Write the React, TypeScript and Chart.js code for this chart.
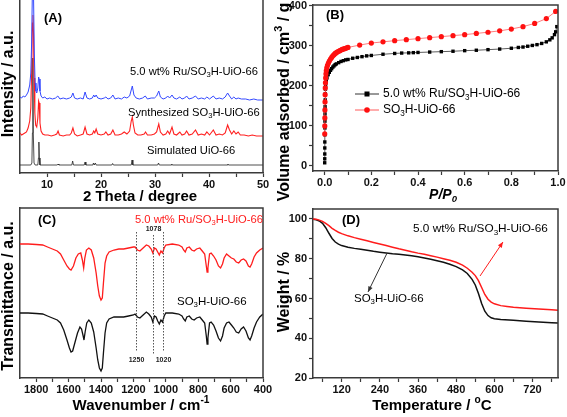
import React, { useEffect, useRef } from "react";
import { Chart, registerables } from "chart.js";
Chart.register(...registerables);

const W = 567;
const H = 417;
const FF = "'Liberation Sans', Arial, Helvetica, sans-serif";
const AXIS = "#3a3a3a";

// ---------------- Panel A: XRD (2θ, intensity a.u.) ----------------
const xrdRu: number[][] = [
  [5.0, 76], [5.3, 75], [5.6, 77], [5.9, 76], [6.2, 78], [6.5, 81], [6.8, 88], [7.0, 100], [7.15, 130], [7.3, 185],
  [7.4, 200], [7.5, 180], [7.65, 120], [7.8, 90], [7.95, 82], [8.1, 80], [8.3, 85], [8.45, 96], [8.55, 94], [8.7, 82],
  [8.9, 77], [9.2, 75], [9.6, 76], [10.0, 74], [10.5, 75], [11.0, 74], [11.6, 75], [12.0, 77], [12.4, 74], [13.0, 75],
  [13.6, 74], [14.2, 75], [14.5, 76], [14.8, 80], [15.1, 75], [15.6, 74], [16.2, 75], [16.7, 74], [17.05, 81], [17.4, 75],
  [17.9, 74], [18.4, 75], [18.65, 78], [18.85, 76], [19.1, 78], [19.4, 75], [20.0, 74], [20.6, 75], [20.9, 76], [21.3, 74],
  [21.8, 75], [22.2, 78], [22.6, 74], [23.2, 75], [23.8, 74], [24.3, 76], [24.8, 75], [25.3, 77], [25.8, 87], [26.1, 78],
  [26.5, 75], [27.1, 74], [27.7, 75], [28.2, 77], [28.6, 74], [29.3, 75], [29.9, 75], [30.3, 77], [30.7, 82], [31.0, 76],
  [31.5, 74], [32.0, 75], [32.35, 77], [32.7, 75], [33.15, 78], [33.5, 75], [34.0, 74], [34.6, 76], [35.0, 74], [35.5, 75],
  [35.85, 77], [36.3, 74], [36.9, 75], [37.5, 77], [38.0, 74], [38.6, 75], [39.2, 74], [39.6, 76], [40.1, 74], [40.8, 77],
  [41.3, 74], [41.9, 75], [42.5, 74], [43.0, 76], [43.45, 80], [43.8, 77], [44.2, 74], [44.6, 76], [45.0, 74], [45.4, 75],
  [46.0, 74], [46.8, 74], [47.5, 73], [48.3, 74], [49.0, 73], [50.0, 73],
];
const xrdSO3H: number[][] = [
  [5.0, 40], [5.3, 38], [5.6, 39], [5.9, 40], [6.2, 41], [6.5, 45], [6.8, 52], [7.0, 65], [7.15, 100], [7.3, 150],
  [7.4, 158], [7.5, 140], [7.6, 95], [7.75, 60], [7.9, 48], [8.1, 46], [8.3, 55], [8.45, 72], [8.55, 70], [8.7, 50],
  [8.9, 42], [9.2, 39], [9.6, 38], [10.2, 38], [10.8, 37], [11.4, 38], [11.8, 39], [12.05, 42], [12.3, 38], [13.0, 37],
  [13.6, 38], [14.2, 38], [14.5, 40], [14.8, 45], [15.1, 39], [15.6, 37], [16.2, 38], [16.7, 39], [17.05, 46], [17.4, 39],
  [17.9, 38], [18.4, 39], [18.65, 42], [18.85, 40], [19.1, 44], [19.4, 39], [20.0, 38], [20.6, 39], [20.9, 41], [21.3, 38],
  [21.8, 39], [22.2, 43], [22.6, 38], [23.2, 38], [23.8, 39], [24.3, 41], [24.8, 39], [25.3, 42], [25.6, 52], [25.8, 56],
  [26.0, 48], [26.3, 40], [26.8, 38], [27.4, 38], [28.0, 39], [28.25, 41], [28.6, 38], [29.3, 38], [29.9, 39], [30.3, 41],
  [30.7, 49], [31.0, 41], [31.5, 38], [32.0, 39], [32.35, 42], [32.7, 39], [33.15, 46], [33.5, 39], [34.0, 38], [34.6, 41],
  [35.0, 38], [35.5, 39], [35.85, 42], [36.3, 38], [36.9, 39], [37.5, 43], [38.0, 38], [38.6, 39], [39.2, 38], [39.6, 41],
  [40.1, 38], [40.8, 43], [41.3, 38], [41.9, 39], [42.5, 38], [43.0, 40], [43.45, 48], [43.8, 43], [44.2, 39], [44.6, 42],
  [45.0, 39], [45.4, 41], [45.8, 38], [46.5, 38], [47.3, 37], [48.0, 38], [48.8, 37], [50.0, 37],
];
const xrdSim: number[][] = [
  [5.0, 8], [7.0, 8], [7.2, 10], [7.3, 40], [7.38, 115], [7.46, 40], [7.6, 10], [7.8, 8], [8.3, 8], [8.42, 15],
  [8.5, 31], [8.58, 15], [8.7, 8], [11.9, 8], [12.05, 9], [12.2, 8], [14.6, 8], [14.75, 12], [14.9, 8], [16.9, 8],
  [17.05, 11], [17.2, 8], [18.5, 8], [18.6, 10], [18.75, 8], [18.95, 10], [19.1, 8], [22.0, 8], [22.15, 9.5], [22.3, 8],
  [25.6, 8], [25.75, 13], [25.9, 8], [30.5, 8], [30.65, 10], [30.8, 8], [33.0, 8], [33.1, 9], [33.2, 8], [43.4, 8],
  [43.5, 9], [43.6, 8], [50.0, 8],
];
const xrdTicks = [10, 15, 20, 25, 30, 35, 40, 45, 50];
const xrdLabels = [10, 20, 30, 40, 50];

// ---------------- Panel B: N2 isotherms ----------------
const isoRu: number[][] = [
  [0.0002, 8], [0.0003, 18], [0.0004, 30], [0.0005, 45], [0.0006, 60], [0.0008, 78], [0.001, 95], [0.0012, 112],
  [0.0015, 130], [0.0018, 148], [0.0022, 165], [0.0027, 180], [0.0033, 192], [0.004, 201], [0.005, 208], [0.007, 214],
  [0.01, 220], [0.015, 228], [0.02, 234], [0.025, 239], [0.03, 243], [0.035, 247], [0.04, 250], [0.045, 253],
  [0.05, 255], [0.06, 258], [0.07, 261], [0.08, 263], [0.09, 265], [0.1, 266], [0.12, 269], [0.14, 271], [0.16, 273],
  [0.18, 275], [0.2, 276], [0.25, 279], [0.3, 281], [0.33, 282], [0.36, 282.5], [0.38, 283], [0.4, 283.5],
  [0.45, 284.5], [0.5, 285.5], [0.55, 286.5], [0.6, 288], [0.65, 289], [0.7, 290.5], [0.75, 292], [0.8, 294],
  [0.83, 296], [0.85, 297], [0.87, 299], [0.89, 301], [0.91, 303], [0.93, 306], [0.95, 310], [0.965, 315],
  [0.975, 320], [0.985, 328], [0.99, 335], [0.995, 348],
];
const isoSO3H: number[][] = [
  [0.0003, 80], [0.0005, 100], [0.0008, 120], [0.0011, 140], [0.0015, 160], [0.002, 178], [0.0026, 195],
  [0.0033, 208], [0.0042, 220], [0.0055, 230], [0.007, 238], [0.009, 245], [0.012, 251], [0.016, 257], [0.02, 262],
  [0.025, 267], [0.03, 271], [0.035, 275], [0.04, 278], [0.045, 281], [0.05, 283], [0.055, 285], [0.06, 286.5],
  [0.065, 288], [0.07, 289.5], [0.075, 291], [0.08, 292], [0.085, 293], [0.09, 294], [0.095, 295], [0.1, 296],
  [0.15, 302], [0.2, 307], [0.25, 310], [0.3, 313], [0.35, 315.5], [0.4, 318], [0.45, 320.5], [0.5, 323],
  [0.55, 325.5], [0.6, 328], [0.65, 331], [0.7, 334], [0.75, 337.5], [0.8, 342], [0.85, 348], [0.9, 356],
  [0.95, 368], [0.99, 386],
];
const isoXTicks = [0, 0.1, 0.2, 0.3, 0.4, 0.5, 0.6, 0.7, 0.8, 0.9, 1.0];
const isoXLabels = [0, 0.2, 0.4, 0.6, 0.8, 1.0];
const isoYTicks = [0, 50, 100, 150, 200, 250, 300, 350, 400];
const isoYLabels = [0, 100, 200, 300, 400];

// ---------------- Panel C: FT-IR ----------------
const irRu: number[][] = [
  [1900, 134], [1850, 134], [1800, 133.5], [1760, 133], [1730, 131], [1700, 129], [1670, 127], [1650, 124],
  [1630, 118], [1610, 112], [1595, 109], [1585, 108], [1570, 112], [1555, 120], [1540, 124], [1525, 125],
  [1515, 118], [1507, 110], [1500, 120], [1490, 128], [1475, 130], [1460, 128], [1445, 120], [1430, 105],
  [1420, 92], [1410, 82], [1400, 78], [1392, 80], [1385, 95], [1375, 115], [1365, 122], [1350, 126], [1320, 128],
  [1290, 129], [1260, 129], [1230, 130], [1200, 131], [1190, 131], [1175, 128], [1160, 127], [1140, 130],
  [1120, 133], [1105, 132], [1090, 129], [1080, 125], [1070, 130], [1060, 129], [1050, 126], [1040, 123],
  [1030, 127], [1020, 125], [1010, 130], [1000, 133], [960, 134], [920, 133], [900, 131], [890, 128], [880, 126],
  [870, 130], [855, 131], [840, 128], [825, 127], [810, 129], [790, 130], [775, 127], [760, 124], [750, 112],
  [745, 106], [740, 110], [730, 124], [720, 125], [705, 122], [690, 118], [675, 112], [662, 110], [650, 114],
  [640, 120], [625, 124], [610, 122], [595, 120], [580, 119], [565, 116], [550, 115], [535, 118], [520, 119],
  [505, 117], [490, 112], [480, 111], [470, 114], [455, 121], [440, 125], [420, 128], [400, 130],
];
const irSO3H: number[][] = [
  [1900, 65], [1850, 65], [1800, 64.5], [1760, 64], [1730, 62], [1700, 60], [1670, 58], [1650, 55], [1630, 48],
  [1610, 38], [1595, 30], [1585, 26], [1575, 27], [1560, 36], [1545, 45], [1530, 51], [1520, 49], [1510, 42],
  [1505, 38], [1498, 46], [1488, 55], [1475, 58], [1460, 55], [1445, 46], [1430, 30], [1420, 18], [1410, 10],
  [1400, 7], [1392, 10], [1385, 25], [1375, 45], [1365, 55], [1350, 59], [1320, 61], [1290, 61], [1260, 61],
  [1230, 62], [1200, 63], [1190, 64], [1175, 61], [1160, 60], [1140, 63], [1120, 66], [1105, 64], [1090, 61],
  [1080, 56], [1070, 62], [1060, 61], [1050, 57], [1040, 54], [1030, 58], [1020, 56], [1010, 62], [1000, 65],
  [960, 65], [920, 64], [900, 62], [890, 59], [880, 57], [870, 61], [855, 62], [840, 59], [825, 58], [810, 60],
  [790, 61], [775, 58], [760, 55], [750, 42], [745, 34], [740, 40], [730, 55], [720, 56], [705, 53], [690, 47],
  [675, 40], [662, 37], [650, 42], [640, 50], [625, 55], [610, 56], [595, 53], [580, 50], [565, 46], [550, 45],
  [535, 49], [520, 51], [505, 47], [490, 40], [480, 38], [470, 42], [455, 50], [440, 56], [420, 61], [400, 64],
];
const irXTicks = [1800, 1700, 1600, 1500, 1400, 1300, 1200, 1100, 1000, 900, 800, 700, 600, 500, 400];
const irXLabels = [1800, 1600, 1400, 1200, 1000, 800, 600, 400];
const irMarkLines = [1185, 1078, 1015];
const irMarkLabels = ["1250", "1078", "1020"];

// ---------------- Panel D: TGA ----------------
const tgaRu: number[][] = [
  [30, 100], [40, 99.8], [50, 99.4], [60, 98.8], [70, 97.8], [80, 96.6], [90, 95.3], [100, 94.2], [110, 93.3],
  [120, 92.6], [140, 91.5], [160, 90.6], [180, 89.8], [200, 89], [220, 88.2], [240, 87.4], [260, 86.6], [280, 85.8],
  [300, 85], [320, 84.3], [340, 83.5], [360, 82.8], [380, 82.2], [400, 81.5], [420, 80.8], [440, 80], [460, 79.2],
  [480, 78.2], [500, 76.8], [515, 75.2], [530, 73.2], [540, 71.5], [550, 69], [560, 65.5], [570, 62], [580, 59.6],
  [590, 58.2], [600, 57.3], [620, 56.4], [640, 56], [660, 55.6], [700, 55.1], [740, 54.7], [780, 54.3], [800, 54.1],
];
const tgaSO3H: number[][] = [
  [30, 99.8], [40, 99.6], [50, 99], [60, 97.8], [70, 95.6], [80, 92.8], [90, 90.2], [100, 88.4], [110, 87.3],
  [120, 86.6], [140, 85.8], [160, 85.2], [180, 84.7], [200, 84.2], [220, 83.7], [240, 83.3], [260, 82.9], [280, 82.5],
  [300, 82.2], [320, 81.9], [340, 81.5], [360, 81], [380, 80.4], [400, 79.7], [420, 79], [440, 78.2], [460, 77.2],
  [480, 76], [500, 74.4], [515, 72.6], [530, 69.6], [540, 66.8], [550, 62.5], [560, 57.5], [570, 53.6], [580, 51.4],
  [590, 50.3], [600, 49.8], [620, 49.4], [660, 49], [700, 48.6], [740, 48.2], [780, 47.8], [800, 47.6],
];
const tgaXTicks = [60, 120, 180, 240, 300, 360, 420, 480, 540, 600, 660, 720, 780];
const tgaXLabels = [120, 240, 360, 480, 600, 720];
const tgaYTicks = [20, 30, 40, 50, 60, 70, 80, 90, 100];
const tgaYLabels = [20, 40, 60, 80, 100];
// arrows: [fromX, fromY, toX, toY] in data units (head at "to")
const tgaArrowRu = [555, 71.3, 627, 88.4];
const tgaArrowSO3H = [263, 82.9, 203, 63.3];

// ---------------- helpers ----------------
type Seg = { text: string; mode: "n" | "sub" | "sup" };
function parseRich(s: string): Seg[] {
  const out: Seg[] = [];
  let buf = "";
  let i = 0;
  while (i < s.length) {
    const ch = s[i];
    if ((ch === "_" || ch === "^") && s[i + 1] === "{") {
      if (buf) { out.push({ text: buf, mode: "n" }); buf = ""; }
      const end = s.indexOf("}", i + 2);
      out.push({ text: s.slice(i + 2, end), mode: ch === "_" ? "sub" : "sup" });
      i = end + 1;
    } else { buf += ch; i++; }
  }
  if (buf) out.push({ text: buf, mode: "n" });
  return out;
}

type Txt = {
  s: string; x: number; y: number; size: number; bold?: boolean; italic?: boolean;
  color?: string; align?: "left" | "center"; rot?: boolean;
};

function drawRich(ctx: CanvasRenderingContext2D, t: Txt) {
  const segs = parseRich(t.s);
  const pre = `${t.italic ? "italic " : ""}${t.bold ? "bold " : ""}`;
  let total = 0;
  const items = segs.map((sg) => {
    const sz = sg.mode === "n" ? t.size : t.size * 0.68;
    ctx.font = `${pre}${sz}px ${FF}`;
    const w = ctx.measureText(sg.text).width;
    total += w;
    return { ...sg, sz, w };
  });
  ctx.save();
  ctx.translate(t.x, t.y);
  if (t.rot) ctx.rotate(-Math.PI / 2);
  let x = t.align === "center" ? -total / 2 : 0;
  ctx.textBaseline = "middle";
  ctx.textAlign = "left";
  ctx.fillStyle = t.color || "#000";
  for (const it of items) {
    ctx.font = `${pre}${it.sz}px ${FF}`;
    const dy = it.mode === "sub" ? t.size * 0.28 : it.mode === "sup" ? -t.size * 0.38 : 0;
    ctx.fillText(it.text, x, dy);
    x += it.w;
  }
  ctx.restore();
}

const pts = (a: number[][]) => a.map(([x, y]) => ({ x, y }));

type AxisSpec = {
  min: number; max: number; reverse?: boolean; ticks?: number[]; labels?: number[];
  fmt?: (v: number) => string; size: number;
};

function makeAxis(a: AxisSpec, horizontal: boolean) {
  const show = !!a.ticks;
  return {
    type: "linear",
    min: a.min,
    max: a.max,
    reverse: !!a.reverse,
    afterBuildTicks: (s: any) => {
      if (a.ticks) s.ticks = a.ticks.map((v) => ({ value: v }));
    },
    afterFit: (s: any) => {
      if (horizontal) { s.height = a.size; s.paddingLeft = 0; s.paddingRight = 0; }
      else { s.width = a.size; s.paddingTop = 0; s.paddingBottom = 0; }
    },
    ticks: {
      display: show,
      autoSkip: false,
      maxRotation: 0,
      padding: horizontal ? 1 : 2,
      color: "#111",
      font: { family: FF, size: 11, weight: "bold" },
      callback: (v: number) => (a.labels && a.labels.includes(v) ? (a.fmt ? a.fmt(v) : String(v)) : ""),
    },
    grid: {
      display: true,
      drawOnChartArea: false,
      drawTicks: show,
      tickLength: 4,
      tickColor: AXIS,
      tickWidth: 1.2,
    },
    border: { display: true, color: AXIS, width: 1.5 },
  };
}

type PanelSpec = {
  pad: { left: number; top: number; right: number; bottom: number };
  x: AxisSpec; y: AxisSpec;
  datasets: any[];
  topBorder: boolean;
  texts: Txt[];
  extra?: (chart: any, ctx: CanvasRenderingContext2D) => void;
};

function makeConfig(p: PanelSpec): any {
  const plugin = {
    id: "panelDeco",
    afterDatasetsDraw(chart: any) {
      const ctx: CanvasRenderingContext2D = chart.ctx;
      const a = chart.chartArea;
      ctx.save();
      ctx.strokeStyle = AXIS;
      ctx.lineWidth = 1.5;
      ctx.beginPath();
      ctx.moveTo(a.right, a.bottom);
      ctx.lineTo(a.right, a.top);
      if (p.topBorder) ctx.lineTo(a.left, a.top);
      ctx.stroke();
      ctx.restore();
      if (p.extra) p.extra(chart, ctx);
      for (const t of p.texts) drawRich(ctx, t);
    },
  };
  return {
    type: "line",
    data: { datasets: p.datasets },
    options: {
      animation: false,
      responsive: false,
      devicePixelRatio: 1,
      layout: { padding: p.pad },
      plugins: { legend: { display: false }, tooltip: { enabled: false }, title: { display: false } },
      scales: { x: makeAxis(p.x, true), y: makeAxis(p.y, false) },
      elements: { line: { tension: 0 } },
    },
    plugins: [plugin],
  };
}

const lineDs = (data: number[][], color: string, width: number) => ({
  data: pts(data), borderColor: color, borderWidth: width, pointRadius: 0, fill: false,
});

const RED = "#ff1c1c";

function drawArrow(ctx: CanvasRenderingContext2D, chart: any, arr: number[], color: string) {
  const sx = chart.scales.x, sy = chart.scales.y;
  const x1 = sx.getPixelForValue(arr[0]), y1 = sy.getPixelForValue(arr[1]);
  const x2 = sx.getPixelForValue(arr[2]), y2 = sy.getPixelForValue(arr[3]);
  const ang = Math.atan2(y2 - y1, x2 - x1);
  ctx.save();
  ctx.strokeStyle = color; ctx.fillStyle = color; ctx.lineWidth = 1;
  ctx.beginPath(); ctx.moveTo(x1, y1); ctx.lineTo(x2, y2); ctx.stroke();
  ctx.beginPath();
  ctx.moveTo(x2, y2);
  ctx.lineTo(x2 - 6 * Math.cos(ang - 0.4), y2 - 6 * Math.sin(ang - 0.4));
  ctx.lineTo(x2 - 6 * Math.cos(ang + 0.4), y2 - 6 * Math.sin(ang + 0.4));
  ctx.closePath(); ctx.fill();
  ctx.restore();
}

const specs: PanelSpec[] = [
  // (A)
  {
    pad: { left: 0, top: 0, right: 304, bottom: 222 },
    x: { min: 5, max: 50, ticks: xrdTicks, labels: xrdLabels, size: 22 },
    y: { min: 0, max: 173, size: 20 },
    datasets: [
      lineDs(xrdRu, "#3348ff", 1),
      lineDs(xrdSO3H, "#ff2020", 1.1),
      lineDs(xrdSim, "#222", 0.8),
    ],
    topBorder: false,
    texts: [
      { s: "(A)", x: 53, y: 18, size: 13, bold: true, align: "center" },
      { s: "5.0 wt% Ru/SO_{3}H-UiO-66", x: 130, y: 72, size: 11.2 },
      { s: "Synthesized SO_{3}H-UiO-66", x: 128, y: 113, size: 11.2 },
      { s: "Simulated UiO-66", x: 147, y: 151, size: 11.2 },
      { s: "Intensity / a.u.", x: 9, y: 84, size: 16, bold: true, align: "center", rot: true },
      { s: "2 Theta / degree", x: 140, y: 197, size: 15, bold: true, align: "center" },
    ],
  },
  // (B)
  {
    pad: { left: 283, top: 5, right: 9, bottom: 224 },
    x: { min: -0.05, max: 1.0, ticks: isoXTicks, labels: isoXLabels, fmt: (v) => v.toFixed(1), size: 22 },
    y: { min: -12.5, max: 402, ticks: isoYTicks, labels: isoYLabels, size: 30 },
    datasets: [
      {
        data: pts(isoSO3H), borderColor: "#ff5a5a", borderWidth: 0.8, pointRadius: 2.6,
        pointStyle: "circle", pointBackgroundColor: "#ff1010", pointBorderColor: "#ff1010", pointBorderWidth: 0,
      },
      {
        data: pts(isoRu), borderColor: "#333", borderWidth: 0.8, pointRadius: 2.4,
        pointStyle: "rect", pointBackgroundColor: "#000", pointBorderColor: "#000", pointBorderWidth: 0,
      },
    ],
    topBorder: true,
    texts: [
      { s: "(B)", x: 335, y: 15, size: 13, bold: true, align: "center" },
      { s: "5.0 wt% Ru/SO_{3}H-UiO-66", x: 383, y: 94, size: 12 },
      { s: "SO_{3}H-UiO-66", x: 383, y: 110, size: 12 },
      { s: "Volume adsorbed / cm^{3} / g", x: 285, y: 102, size: 16, bold: true, align: "center", rot: true },
      { s: "P/P_{0}", x: 443, y: 195, size: 14, bold: true, italic: true, align: "center" },
    ],
    extra: (chart, ctx) => {
      ctx.save();
      ctx.lineWidth = 1;
      ctx.strokeStyle = "#333";
      ctx.beginPath(); ctx.moveTo(355, 94); ctx.lineTo(379, 94); ctx.stroke();
      ctx.fillStyle = "#000"; ctx.fillRect(364.5, 91.5, 5, 5);
      ctx.strokeStyle = "#ff5a5a";
      ctx.beginPath(); ctx.moveTo(355, 110); ctx.lineTo(379, 110); ctx.stroke();
      ctx.fillStyle = "#ff1010"; ctx.beginPath(); ctx.arc(367, 110, 2.8, 0, Math.PI * 2); ctx.fill();
      ctx.restore();
    },
  },
  // (C)
  {
    pad: { left: 0, top: 208, right: 304, bottom: 17 },
    x: { min: 400, max: 1900, reverse: true, ticks: irXTicks, labels: irXLabels, size: 22 },
    y: { min: 0, max: 170, size: 20 },
    datasets: [lineDs(irRu, RED, 1.3), lineDs(irSO3H, "#111", 1.3)],
    topBorder: true,
    texts: [
      { s: "(C)", x: 47, y: 220, size: 13, bold: true, align: "center" },
      { s: "5.0 wt% Ru/SO_{3}H-UiO-66", x: 135, y: 220, size: 11.2, color: RED },
      { s: "SO_{3}H-UiO-66", x: 177, y: 302, size: 11.5 },
      { s: "Transmittance / a.u.", x: 9, y: 296, size: 16, bold: true, align: "center", rot: true },
      { s: "Wavenumber / cm^{-1}", x: 141, y: 406, size: 15, bold: true, align: "center" },
    ],
    extra: (chart, ctx) => {
      const sx = chart.scales.x, sy = chart.scales.y;
      ctx.save();
      ctx.strokeStyle = "#555"; ctx.lineWidth = 1; ctx.setLineDash([1.5, 1.5]);
      irMarkLines.forEach((v, i) => {
        const px = Math.round(sx.getPixelForValue(v)) + 0.5;
        const top = sy.getPixelForValue(i === 1 ? 143 : 146);
        const bot = sy.getPixelForValue(i === 1 ? 23 : 26);
        ctx.beginPath(); ctx.moveTo(px, top); ctx.lineTo(px, bot); ctx.stroke();
        const ly = i === 1 ? sy.getPixelForValue(149) : sy.getPixelForValue(18);
        drawRich(ctx, { s: irMarkLabels[i], x: px, y: ly, size: 7, bold: true, align: "center", color: "#222" });
      });
      ctx.restore();
    },
  },
  // (D)
  {
    pad: { left: 283, top: 209, right: 9, bottom: 17 },
    x: { min: 30, max: 800, ticks: tgaXTicks, labels: tgaXLabels, size: 22 },
    y: { min: 20, max: 105, ticks: tgaYTicks, labels: tgaYLabels, size: 30 },
    datasets: [lineDs(tgaRu, RED, 1.5), lineDs(tgaSO3H, "#111", 1.5)],
    topBorder: true,
    texts: [
      { s: "(D)", x: 351, y: 220, size: 13, bold: true, align: "center" },
      { s: "5.0 wt% Ru/SO_{3}H-UiO-66", x: 413, y: 229, size: 11.8 },
      { s: "SO_{3}H-UiO-66", x: 354, y: 299, size: 11.5 },
      { s: "Weight / %", x: 285, y: 292, size: 16, bold: true, align: "center", rot: true },
      { s: "Temperature / ^{o}C", x: 432, y: 406, size: 15, bold: true, align: "center" },
    ],
    extra: (chart, ctx) => {
      drawArrow(ctx, chart, tgaArrowRu, RED);
      drawArrow(ctx, chart, tgaArrowSO3H, "#333");
    },
  },
];

function Panel({ spec }: { spec: PanelSpec }) {
  const ref = useRef<HTMLCanvasElement>(null);
  useEffect(() => {
    const chart = new Chart(ref.current as HTMLCanvasElement, makeConfig(spec));
    return () => chart.destroy();
  }, [spec]);
  return (
    <canvas
      ref={ref}
      width={W}
      height={H}
      style={{ position: "absolute", left: 0, top: 0, width: W, height: H }}
    />
  );
}

export default function App() {
  return (
    <div style={{ position: "absolute", left: 0, top: 0, width: W, height: H, background: "#fff", overflow: "hidden" }}>
      {specs.map((s, i) => (
        <Panel key={i} spec={s} />
      ))}
    </div>
  );
}
